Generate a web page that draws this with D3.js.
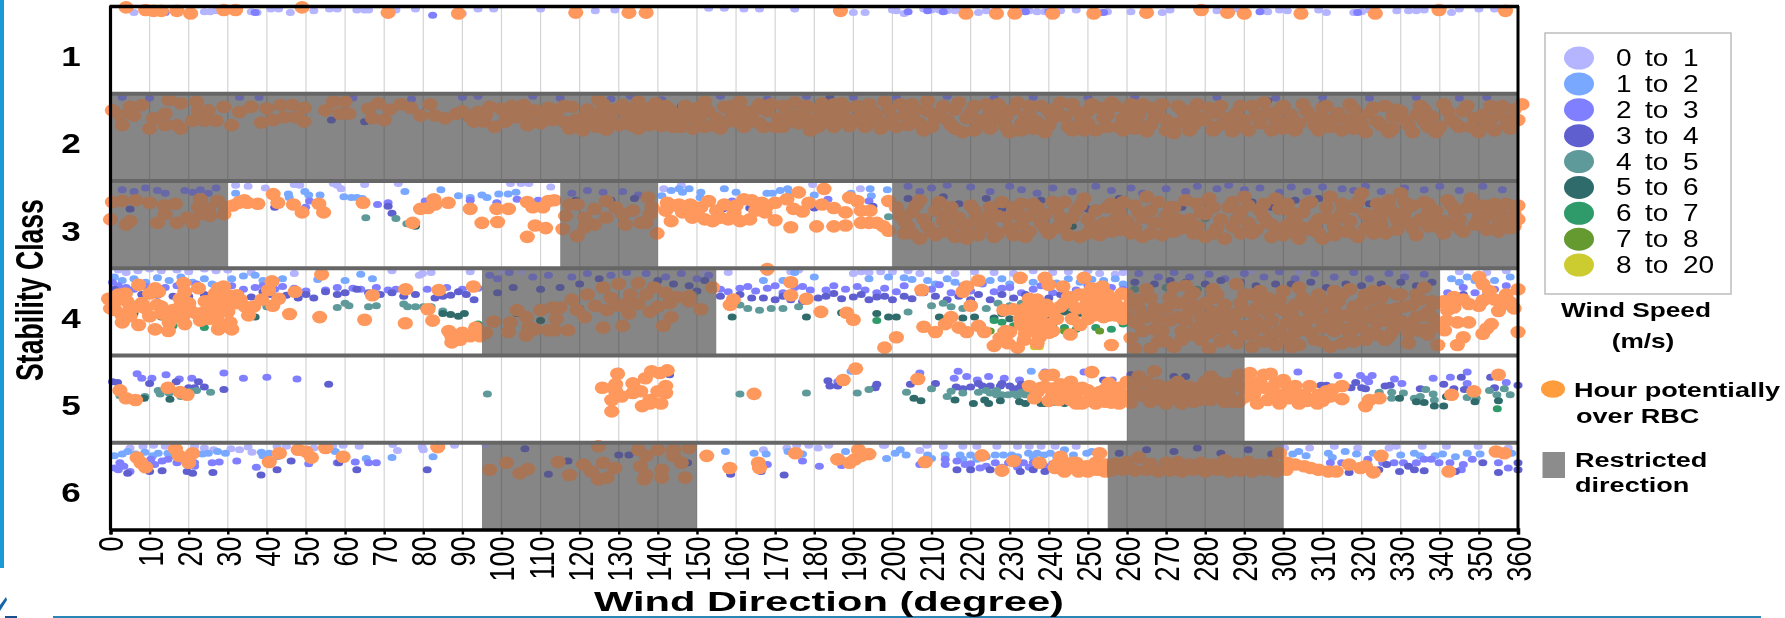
<!DOCTYPE html>
<html>
<head>
<meta charset="utf-8">
<script src="https://cdn.jsdelivr.net/npm/d3@7"></script>
<style>
html, body { margin: 0; padding: 0; background: #fff; }
svg { display: block; filter: blur(0.55px); }
text { font-family: "Liberation Sans", Arial, sans-serif; fill: #000; }
</style>
</head>
<body>
<script>
// Wind speed bins and stability classes
var speedLabels = [["0","1"],["1","2"],["2","3"],["3","4"],["4","5"],["5","6"],["6","7"],["7","8"],["8","20"]];
var speedColors = ["#b4b4ff","#78a8ff","#7f7fff","#5f5fd0","#5f9a9a","#2f6b6b","#2f9a6a","#659a30","#cccc30"];
var rbcColor = "#ff985c";
var stabilityClasses = [1,2,3,4,5,6];
var directionTicks = d3.range(0, 361, 10);

// Restricted direction sectors per class: [class, from, to]
var restricted = [[2,0,360],[3,0,30],[3,115,140],[3,200,360],[4,95,155],[4,260,340],[5,260,290],[6,95,150],[6,255,300]];

// Points are [wind direction, depth inside the class band in percent]
var band1Speed0 = [[6,7],[12,6],[24,6],[25.5,6],[27,5],[36,6],[37.5,7],[41,3],[43,3],[46,7],[52,5],[56,3],[58,3],[63,4],[65,4],[66,4],[73,4],[78,3],[90,8],[94,3],[98,3],[110,3],[124,5],[129,4],[153,2],[157,2],[162,3],[166,3],[175,3],[190,7],[193,7],[200,4],[203,8],[201,5],[208,3],[210,4],[212,4],[214,5],[216,5],[218,4],[222,7],[224,5],[227,6],[233,5],[235,5],[237,6],[239,6],[243,5],[247,4],[251,6],[253,7],[255,6],[261,6],[269,7],[271,4],[278,3],[283,5],[288,3],[295,3],[296,6],[299,4],[301,5],[309,4],[311,7],[318,7],[320,6],[322,4],[329,5],[332,5],[334,5],[336,4],[343,7],[345,3],[350,3],[354,3]];
var band1Speed2 = [[14,7],[37,7],[82.4,10],[204,6],[209,5],[213,6],[219,6],[226,7],[234,6],[240,6],[252,7],[254,7],[294,6],[319,7]];
var band1Rbc = [[4,1],[9,4],[11,5],[13,5],[17,5],[20.5,8],[29,4],[32,4],[49,1],[71,7],[89,8],[119,7],[132.6,7],[137,7],[186.7,5],[218.8,8],[226.6,8],[231.3,8],[241,8],[251.5,8],[265,7],[279,4],[285.7,7],[290,8],[304.5,8],[323.5,8],[339.8,4],[356.8,5]];

var band2Speed2 = [[3,4],[10,5],[33,4],[38,4],[62,5],[77,6],[90,4],[94,3],[108,3],[115,5],[128,6],[133,3],[141,7],[156,3],[168,6],[178,3],[190,4],[201,4],[214,3],[226,5],[236,4],[250,4],[262,3],[283,4],[298,5],[310,4],[322,5],[334,4],[345,5],[352,4]];
var band2Speed3 = [[56.5,30],[65,32],[126,10],[146,14],[184,5],[296,8],[310,12]];
var band2Rbc = [[0.5,19],[3,36],[2.5,25],[5,15],[8,13],[6,25],[10,40],[11,28],[14,36],[14,23],[15,7],[17,36],[18,40],[18,11],[22,9],[21,31],[24,31],[27,31],[22.5,19],[25,19],[29,15],[31,36],[33,21],[36,15],[38.6,33],[41.6,30],[44.5,27],[49.5,32],[47.5,27],[40,17],[43.5,13],[46.5,13],[49.6,16],[55,19],[57,9],[60,9],[58.7,23],[61,23],[67,28],[70,30],[66,17],[68.5,11],[71.4,18],[74.3,12],[76.8,16],[79.3,25],[81.7,12],[83,25],[85.6,28],[88.5,23],[92,27],[95.4,32],[98.3,38],[94,21],[97,15],[99.8,17],[102.7,14],[103.7,27],[106.7,36],[105.7,13],[108.6,19],[111.5,25],[114.4,19],[118,15],[117.4,40],[120.8,42],[120.8,27],[124.8,7],[124.3,38],
[126.8,41],[125.5,22],[128,30],[131,13],[133,36],[135,9],[135,40],[137,27],[139.5,11],[141,37],[143,18],[145,30],[147,14],[149,40],[151,25],[152,9],[154,36],[156,40],[157,15],[159,25],[161,9],[163,33],[165,18],[167,38],[169,12],[171,28],[173,33],[175,10],[177,22],[179,42],[180,30],[182,11],[184,20],[186,33],[187,11],[189,37],[191,14],[193,38],[195,20],[197,40],[198,9],[200,28],[202,12],[204,36],[206,18],[208,42],[209,8],[211,28],[213,14],[215,36],[217,10],[218,44],[220,22],[222,36],[224,12],[226,30],[228,18],[230,44],[232,10],[234,26],[236,40],[238,14],[239,44],[241,28],[243,10],[245,38],[247,20],[249,42],[251,12],[252,42],[254,28],[256,10],[258,38],[260,20],[262,40],[264,12],[265,43],[267,28],[269,12],[271,38],[272,45],[274,18],[276,42],[278,12],[280,30],[282,42],[284,14],[286,28],[287,43],[289,14],[291,42],[293,24],[295,10],[297,42],[299,18],[301,32],[303,42],[305,12],[307,26],[309,42],[311,14],[313,28],[315,42],[317,12],[319,28],[321,44],[323,16],[325,36],[327,44],[329,18],[331,30],[333,44],[335,14],[337,38],[339,44],[341,12],[343,30],[345,38],[347,14],[349,28],[350,44],[352,36],[354,42],[356,14],[358,28],[358,40],[360,30],[361,12]];
var band2RbcDense = [[90,20],[93,32],[96,24],[101,32],[104,20],[107,24],[110,34],[112,16],[113,30],[116,32],[116,14],[119,30],[122,18],[123,32],[125,24],[101,22],[110,24],
[126,12],[127,32],[129,18],[130,36],[132,24],[134,16],[134,30],[136,20],[136,34],[138,16],[138,36],[140,24],[142,14],[142,30],[144,38],[146,22],[146,38],[148,26],[150,16],[150,32],[152,38],[153,20],[155,28],[157,34],[159,14],[160,32],[162,20],[162,38],[164,28],[166,12],[166,34],[168,20],[170,38],[172,14],[172,38],[174,24],[176,34],[178,14],[178,28],[181,18],[181,38],[183,30],[185,12],[185,38],[187,24],[188,16],[190,30],[192,22],[194,12],[194,32],[196,26],[199,18],[199,34],[201,38],[203,24],[205,12],[205,28],[207,34],[209,20],[210,38],[212,22],[214,30],[216,18],[216,40],[219,28],[221,14],[221,42],[223,30],[225,20],[225,40],[227,12],[229,26],[229,38],[231,18],[233,34],[233,42],[235,14],[235,24],[237,32],[240,20],[240,36],[242,16],[244,26],[246,12],[246,42],[248,32],[250,20],[250,34],[253,16],[255,24],[255,38],[257,14],[259,28],[259,42],[261,12],[261,30],[263,24],[263,36],[266,16],[266,36],[268,22],[270,30],[270,42],[273,14],[273,34],[275,26],[277,18],[277,36],[279,28],[281,16],[283,22],[283,38],[285,34],[288,22],[288,38],[290,30],[292,14],[294,34],[296,22],[298,30],[300,14],[300,40],[302,24],[304,34],[306,20],[308,36],[310,16],[310,28],[312,38],[314,22],[316,30],[318,18],[318,40],[320,34],[322,22],[324,32],[326,14],[328,26],[328,40],[330,20],[332,36],[334,24],[336,18],[336,32],[338,26],[340,38],[342,20],[344,34],[346,20],[348,38],[351,24],[353,14],[353,30],[355,24],[357,36],[359,18]];

var band3Speed0 = [[35.2,6],[32,5],[39.6,8],[47,4],[48.4,5],[57,3],[58,5],[59,9],[65,4],[73.6,3],[102.3,3],[105,3],[107,3],[112.6,7],[141.5,9],[146,5],[179.6,4],[191.8,9]];
var band3Speed1 = [[32,14],[45.5,15],[45.7,19],[49.7,12],[53.6,16],[50.7,16],[59.7,18],[61.6,19],[63,19],[64.4,20],[75.3,12],[84.5,10],[89,17],[92,19],[95,16],[96.3,19],[99.3,15],[101.7,15],[103.7,13],[141,17],[143.4,11],[145.4,9],[146.3,13],[148,9],[151,13],[150.8,19],[157,9],[160,13],[167.9,14],[169.3,14],[171.3,11],[173.2,9],[173.7,15],[180,16],[189.4,14],[194.3,9],[194.6,17],[198.7,10]];
var band3Speed2 = [[50.9,23],[49.9,30],[68.3,27],[71,25],[80.5,23],[92,22],[98.8,25],[104,21],[109.4,22],[159,23],[183.5,21],[194,23],
[3,10],[6,12],[9,8],[12,11],[14,14],[19,11],[21,13],[23,10],[25,14],[27,8],[118,14],[122,11],[126,13],[131,12],[135,16],[204,6],[207,12],[210,8],[214,5],[220,7],[225,12],[230,6],[233,10],[237,14],[241,8],[246,12],[252,6],[256,11],[261,8],[264,14],[270,9],[275,12],[278,6],[283,9],[286,5],[290,10],[294,8],[299,13],[302,7],[306,12],[310,7],[315,9],[318,11],[321,6],[325,12],[331,8],[336,10],[340,6],[345,11],[351,6],[356,10]];
var band3Speed3 = [[42,30],[71,29],[72,37],[156.6,32],[163.5,31],[180,31],[195,29],[5,32],[119,22],[128,22],[134,20],[204,20],[206,30],[213,18],[217,26],[224,20],[228,32],[238,22],[243,28],[250,32],[258,20],[262,30],[268,24],[274,30],[280,22],[286,30],[292,24],[297,30],[303,22],[309,20],[318,28],[322,26]];
var band3Speed4 = [[65.3,42],[73,43],[75.8,49],[199,41],[280,43]];
var band3Speed5 = [[78,52],[246,52]];
var band3Rbc = [[0,44],[0.5,24],[3,23],[6.4,22],[10,25],[12,48],[13.7,28],[14,38],[16.6,26],[5,46],[4,50],[17,48],[19.6,42],[21,48],[22.5,30],[23,38],[25,32],[25.4,40],[27.4,23],[29.4,30],[29,38],[23,21],
[31.3,28],[32.8,25],[34.2,22],[35,25],[33,24],[37.7,26],[41.6,15],[42.8,25],[46.8,27],[49,36],[53.3,26],[54.5,36],[64.6,25],[77.3,48],[79.3,32],[81.2,31],[82.7,21],[83,27],[86.4,25],[92,32],[95,48],[99,47],[98.8,32],[101.8,32],[106.6,24],[108,30],[110.6,30],[108.6,51],[111.3,54],[106.6,64],[112,23],[113.5,22],
[115.7,55],[116.4,40],[117.4,27],[119.4,27],[119.4,63],[121.3,42],[121.3,53],[123.8,32],[123.8,50],[126.8,23],[126.8,42],[129.2,30],[131.7,50],[131,38],[133.6,34],[135.6,48],[137.5,19],[138,38],[138.5,30],[137,48],[139.8,60],
[142.4,25],[142,34],[143.4,46],[145.4,27],[146.3,36],[148.8,42],[148.3,27],[153,23],[154,46],[156,42],[157,27],[159.5,36],[162,21],[163.5,44],[164,22],[166.6,25],[167.4,36],[170,25],[170,45],[173,21],[174.7,32],[177,35],[178.6,25],[174,53],[180.6,52],[182,27],[185,31],[185,52],[188,51],[188,36],[191,23],[192,34],[194.3,34],[192,48],[194,48],[196,48],[197.7,52],[199,57],[199,23],[182.5,9],[176,13],[189,19],[144,28],[147,30],[150,38],[151,30],[152,44],[155,34],[158,44],[160,28],[161,46],[165,34],[168,28],
[202,40],[204,52],[206,28],[208,44],[210,58],[212,24],[214,40],[216,64],[218,50],[220,28],[222,62],[224,42],[226,64],[228,24],[230,54],[232,38],[234,64],[236,26],[238,48],[240,60],[241,24],[243,42],[245,62],[247,34],[249,20],[251,52],[253,62],[255,30],[257,44],[259,24],[261,60],[263,36],[265,18],[267,48],[269,62],[271,30],[273,44],[275,22],[277,60],[279,36],[281,20],[283,54],[285,66],[286,30],[288,44],[290,18],[292,60],[294,34],[296,48],[298,20],[300,62],[302,36],[304,66],[306,26],[308,50],[310,66],[312,18],[314,42],[316,58],[318,30],[320,14],[322,50],[324,26],[326,60],[328,36],[330,14],[332,48],[334,62],[336,24],[338,42],[340,54],[342,22],[344,36],[346,58],[348,20],[350,42],[352,56],[354,26],[356,40],[358,54],[360,28],[360,44],
[203,60],[207,66],[213,58],[219,66],[227,40],[233,26],[242,54],[248,64],[258,56],[264,64],[272,58],[280,64],[289,60],[297,64],[301,50],[307,56],[311,42],[319,64],[323,40],[327,30],[331,24],[337,36],[343,50],[349,30],[355,50],[359,38]];
var band3RbcDense = [[201,30],[203,46],[205,36],[205,60],[207,22],[209,52],[211,34],[211,62],[213,46],[215,30],[215,54],[217,42],[219,56],[221,34],[221,46],[223,54],[225,30],[225,52],[227,60],[229,42],[231,30],[231,62],[233,50],[235,40],[235,58],[237,30],[239,38],[239,54],[242,32],[244,50],[244,24],[246,42],[248,28],[250,44],[250,60],[252,34],[254,48],[256,26],[256,58],[258,36],[260,46],[262,28],[262,54],[264,42],[266,34],[266,60],[268,24],[270,50],[270,40],[272,30],[274,54],[276,44],[278,26],[278,52],[280,38],[282,30],[282,60],[284,44],[287,24],[287,52],[289,36],[291,28],[291,48],[293,56],[295,26],[295,42],[297,50],[299,32],[299,56],[301,26],[303,46],[303,60],[305,36],[305,54],[307,24],[309,44],[309,60],[311,30],[313,52],[313,62],[315,36],[315,26],[317,46],[317,58],[319,24],[321,38],[321,54],[323,60],[325,40],[325,50],[327,22],[329,44],[329,56],[331,36],[333,28],[333,54],[335,44],[337,52],[337,26],[339,34],[341,46],[341,60],[343,28],[345,44],[345,54],[347,30],[349,50],[351,28],[351,46],[353,38],[355,30],[355,58],[357,44],[357,26],[359,52]];

var band4Speed0 = [[2,2],[4,5],[7,3],[10,1],[13,3],[17,2],[20,4],[24,1],[27,3],[30,2],[36,5],[47,6],[72,3],[79,8],[79.8,6],[82,5],[92,4],[100,3],[105,4],[152,5],[158,5],[168,5],[174,4],[176,2],[190,6],[192,4],[194,5],[197,4],[200,4],[204,3],[207,6],[212,3],[216,6],[221,4],[226,5],[231,6],[236,3],[241,5],[245,4],[250,3],[253,6],[257,7],[259,5],[280,3],[292,3],[304,4],[318,3],[331,5],[345,4],[352,5],[357,3]];
var band4Speed1 = [[1,10],[3,14],[6,12],[9,16],[12,11],[15,14],[18,10],[21,16],[24,12],[26,18],[31,12],[34,9],[37,8],[39,14],[42,14],[44,12],[53,13],[60,14],[64,7],[67,12],[167,14],[172,14],[175,5],[180,10],[194,12],[199,10],[203,11],[205,13],[209,14],[211,18],[214,12],[216,16],[219,19],[222,12],[225,14],[228,12],[230,18],[233,13],[236,16],[239,12],[242,17],[245,12],[248,16],[251,13],[254,14],[257,12],[259,18],[343,12],[345,16],[347,10],[349,14],[351,18],[354,14],[358,10]];
var band4Speed2 = [[0.5,16],[2,20],[4,22],[6,24],[9,21],[12,26],[14,22],[17,20],[19,26],[22,18],[27,24],[31,20],[34,24],[37,22],[39,20],[42,24],[44,21],[47,23],[50,26],[55,25],[58,22],[62,23],[64,24],[68,22],[71,25],[73,24],[76,26],[81,24],[86,22],[90,24],[94,23],
[156,24],[158,27],[161,23],[163,21],[165,26],[168,23],[170,20],[172,28],[175,22],[177,21],[179,25],[183,25],[185,20],[188,24],[191,21],[193,25],[196,28],[198,23],[201,27],[203,20],[207,28],[210,24],[212,19],[215,28],[218,20],[220,26],[223,18],[226,27],[228,23],[230,22],[233,28],[236,24],[238,20],[241,28],[244,24],[247,25],[250,20],[253,26],[256,22],[259,24],[342,28],[346,22],[349,28],[354,24],[357,20],
[97,8],[99,12],[102,5],[108,10],[112,8],[118,10],[122,6],[128,8],[132,5],[137,6],[142,10],[146,6],[150,12],[153,8],[263,6],[268,10],[272,5],[276,10],[281,7],[285,12],[290,6],[295,10],[299,4],[303,12],[308,6],[313,10],[318,5],[322,12],[327,6],[331,10],[336,7]];
var band4Speed3 = [[1,24],[4,27],[8,30],[12,31],[16,32],[20,32],[24,30],[28,33],[33,30],[36,33],[39,27],[41,30],[45,31],[48,34],[50,30],[52,34],[55,27],[58,30],[60,28],[63,24],[66,28],[69,30],[72,28],[75,32],[78,30],[83,34],[85,32],[87,31],[89,27],[91,30],[93,36],
[156,32],[159,38],[161,30],[164,34],[167,34],[170,36],[172,32],[174,36],[177,38],[181,34],[183,32],[185,29],[187,35],[190,33],[192,30],[194,36],[196,33],[198,32],[200,36],[203,32],[205,35],[208,28],[211,32],[214,36],[217,32],[220,36],[222,30],[225,36],[228,30],[231,34],[234,30],[237,36],[240,34],[243,30],[246,34],[249,32],[254,36],[258,32],[346,30],[352,30],
[99,28],[103,22],[110,24],[115,22],[120,18],[125,12],[140,14],[144,18],[148,20],[152,14],[150,26],[262,16],[267,18],[271,14],[275,16],[280,18],[284,14],[289,16],[293,20],[298,18],[302,18],[307,16],[311,22],[316,18],[320,20],[325,18],[330,16],[334,20],[338,16]];
var band4Speed4 = [[18,44],[40,44],[58,45],[60,40],[61,43],[66,44],[68,43],[75,41],[76,44],[78,44],[80,44],[82,44],[85,49],[161,42],[163,46],[166,48],[169,46],[172,46],[176,44],[204,50],[210,43],[213,40],[215,44],[218,46],[224,46],[227,40],[230,43],[233,40],[237,44],[240,44],[243,48],[245,44],[247,46],[249,42],[252,46],[149,30],[262,24],[270,22],[278,24]];
var band4Speed5 = [[6,52],[13,56],[24,56],[28,54],[37,56],[85,52],[87,53],[89,55],[90.5,52],[159,56],[178,56],[187,51],[196,52],[199,56],[201,56],[212,56],[218,57],[221,56],[226,57],[228,52],[233,52],[236,60],[241,52],[244,50],[246,52],[248,52],[250,56],[255,52],[230,58],[240,60],[104,52],[110,60],[120,46]];
var band4Speed6 = [[16,66],[24,68],[196,60],[222,64],[226,60],[228,62],[231,66],[241,66],[244,68],[247,70],[252,68],[256,70],[259,64],[94,64]];
var band4Speed7 = [[225,72],[228,72],[238,74],[244,72],[253,72]];
var band4Speed8 = [[236.3,90],[237.6,90]];
var band4Rbc = [[-0.5,35],[0,46],[1.2,38],[1.2,48],[3,54],[3,62],[3.8,29],[4.2,38],[5,46],[6.7,44],[7.2,19],[7.2,65],[8.9,46],[10,29],[11.4,23],[12.3,27],[11.9,42],[11.4,70],[13,44],[14.8,72],[15,62],[16,48],[16.5,56],[17.8,44],[17.8,35],[18.7,17],[19,27],[18.7,54],[19,64],[20.4,48],[22.5,23],[22,52],[23,60],[24.2,38],[25.5,46],[26,36],[26.8,29],[27.6,23],[28,38],[27.2,54],[27.6,62],[27.6,70],[30.6,62],[31,70],[28.9,21],[30.2,31],[32.3,31],[33.2,36],[34.4,44],[35.3,54],[36.6,44],[38.7,36],[40.4,25],[41.3,15],[41.5,43],[43,35],[45.8,52.5],[47.2,27],[53.5,56],[54,7],[65,59],[67,31],[75.4,63],[75.5,24],[81.2,47],[82.4,60],[84,25],[92.8,21],[93.4,68],[86.5,72],[87.3,85],[89.4,82],[90,74],[87.3,78],[92,78],[94.5,78],
[96,74],[98,61],[101.8,73],[102.3,62],[106.3,56],[106.3,77],[107,67],[108.6,70],[112,71],[113.5,71],[114,58],[117,71],[115,45],[113,45],[119.4,48],[121.3,56],[124,43],[126,68],[131,66],[132.6,52],[141.4,66],[143.4,56],[138,50],[135,41],[130,43],[140,44],[127,48],[151,47],[148,38],[154,22],[126,22],[130,18],[135,17],[139,22],[142,28],[145,33],[148,32],[128,34],[133,30],[137,30],[122,30],[118,36],[110,48],[104,48],[143,40],[132,40],
[168,1],[174,16],[174,31],[178,35],[158.5,42],[159.3,36],[181.7,50],[188.3,51],[190,59],[201,79],[198,91],[207.5,25],[208,67],[211,73],[213.5,64],[215,56],[217,68],[219,73],[220,43],[222,66],[223.5,73],[218,27],[219,21],[222,14],[228.5,48],[231,47],[230,73],[227.5,80],[226,89],[229.5,86],[232,91],[233.7,82],[235,35],[234.7,56],[236.3,46],[236.3,58],[236.3,70],[237.6,79],[239.4,42],[240,64],[232.7,58],[240,19],[239,11],[243.6,21],[245,33],[247.7,30],[242,58],[245.5,76],[248,65],[247.2,46],[249,11],[249.8,40],[251,23],[253.7,21],[252,35],[253.7,33],[252.4,48],[254.5,44],[255.4,54],[256.6,38],[257,54],[258.7,29],[258.7,46],[259,58],[256,88],[232.7,11],[251.5,54],[254,56],[235,66],[238,60],[234,46],[250,50],[256,46],
[261,40],[261,80],[263,60],[265,24],[266,92],[267,46],[269,72],[271,34],[272,90],[273,56],[275,20],[277,76],[278,44],[280,62],[281,92],[283,30],[285,52],[286,80],[288,18],[289,40],[291,66],[292,90],[294,26],[296,50],[297,78],[299,36],[301,62],[302,90],[304,22],[306,46],[307,74],[309,30],[311,58],[312,90],[314,38],[316,70],[317,24],[319,50],[321,82],[322,36],[324,62],[326,26],[327,78],[329,46],[331,66],[332,86],[334,30],[336,54],[337,76],[339,40],[339.5,88],[262,92],[264,72],[268,58],[270,84],[274,72],[276,34],[279,82],[282,50],[284,70],[287,60],[290,76],[293,46],[295,68],[298,88],[300,48],[303,74],[305,34],[308,56],[310,84],[313,48],[315,86],[318,66],[320,40],[323,74],[325,46],[328,58],[330,30],[333,62],[335,72],[338,56],[263,36],[272,22],[282,24],[292,30],[303,42],[313,26],[323,26],[336,22],[318,84],[326,82],
[343.6,45],[347.4,41],[351,37],[355,49],[358,39],[341.2,71],[344.5,62],[347.4,62],[353.2,64],[351,75],[346,79],[344.5,88],[360,73],[352,69],[341.7,60],[350,43],[356,42],[342,48],[343.6,33],[351,18],[350,10],[352.7,26],[357,30],[360,24],[346,36],[354,36],[359,46],[341,38]];
var band4RbcDense = [[2,30],[5,55],[8,40],[10,55],[13,52],[20,40],[24,50],[25,58],[29,44],[30,50],[32,40],[241,50],[243,44],[246,58],[249,30],[250,58],[253,48],[255,30],[257,40],[246,34],[244,40],[235,50],[238,52],[237,36],[233,65],[238,70],[234,75],[240,74],[237,86],[229,72],[241,72],
[260,55],[260,30],[262,62],[263,46],[265,56],[266,34],[267,70],[268,84],[270,46],[271,60],[273,40],[274,82],[275,60],[276,48],[277,28],[278,68],[279,56],[280,40],[281,74],[282,34],[283,62],[284,84],[285,42],[286,66],[288,52],[288,86],[289,66],[290,30],[291,50],[292,76],[293,60],[294,40],[295,84],[296,34],[297,60],[298,44],[299,72],[300,26],[301,80],[302,52],[303,60],[304,88],[305,70],[306,60],[307,40],[308,82],[309,46],[310,68],[311,38],[312,60],[313,72],[314,58],[315,30],[316,54],[317,76],[318,44],[319,60],[320,68],[321,30],[322,56],[323,50],[324,76],[325,34],[326,60],[327,48],[328,72],[329,30],[330,60],[331,44],[332,74],[333,42],[334,56],[335,36],[336,70],[337,50],[338,38],[339,66]];

var band5Speed1 = [[189.4,18],[235.5,18]];
var band5Speed2 = [[6.8,21],[8,26],[10.6,26],[14.2,22],[17.6,27],[20.8,26],[29,20],[34,26],[40,25],[47.7,27],[130,18],[186,30],[207,20],[206,28],[216.8,18],[215.8,26],[219,24],[221.7,28],[224.6,24],[228.6,26],[232.5,28],[239,19],[249,19],[256.2,28],[303.7,19],[314,23],[319.7,23],[322.7,23],[321,27],[321.8,30],[328.4,27],[330.3,32],[338.3,26],[342.7,25],[347,19],[347,32],[357,31]];
var band5Speed3 = [[10,32],[16.8,30],[22.5,30],[24,36],[21.5,37],[20,37],[29,39],[55.8,33],[0.5,30],[1.8,31],[143,22],[183.5,29],[184,35],[186,35],[196,33],[195.6,37],[204.6,33],[211,32],[216.3,36],[218,38],[223,35],[225,35],[227.6,35],[230,35],[232.5,37],[234.5,37],[254,28],[261,22],[272,24],[275,24],[309.6,34],[311,34],[317.3,37],[318.5,31],[320,37],[321,38],[326,35],[327.3,34],[335,38],[341,33],[345.5,25],[343.6,38],[346.3,39],[353,25],[354,37],[360,34],[220,36],[222,32],[228,32],[231,38],[233,33],[236,36]];
var band5Speed4 = [[25.6,42],[96.4,44],[12.2,40],[12.7,44],[8.8,47],[15,43],[18,47],[22,40],[20.4,41],[2.4,46],[161,44],[178,43],[191,43],[194,39],[203.6,42],[210,38],[214,47],[215,41],[218,43],[225,43],[226.6,40],[226.6,45],[229.6,45],[234,45],[236,47],[231,44],[233,42],[324.5,42],[327.7,42],[327.7,49],[330.7,43],[333.5,49],[335,47],[336.4,39],[338.3,44],[338.6,51],[342.4,44],[347,48],[349.3,49],[352.7,40],[354.6,45],[356.5,38],[358,45],[222,42],[224,40],[228,45],[232,46],[235,42],[237,44]];
var band5Speed5 = [[15.2,50],[8.6,49],[205.5,49],[207.3,52],[216,51],[220.7,55],[223.6,51],[224.6,55],[227.6,52],[232.5,53],[234,55],[238,55],[239,55],[241,54],[244,55],[310,53],[329.7,49],[336,54],[334,53],[338.6,58],[341,58],[349,53],[355,52],[341.7,47]];
var band5Speed6 = [[354.7,61]];
var band5Rbc = [[2.4,40],[4,49],[6.4,51],[14.7,37],[17.8,42],[19.6,45],[125.8,37],[129.7,21],[129.2,33],[129.2,41],[128.2,51],[128.2,64],[130.7,47],[133.6,32],[133.6,43],[135.6,41],[136,58],[136.8,26],[138,51],[138.4,18],[140.5,20],[142.4,17],[140,41],[142,35],[142,43],[140.8,55],[138,55],[164.6,44],[187.4,28],[190.6,15],[206.5,27],[235,35],[236.3,49],[239.2,23],[241,22],[238,37],[241,45],[243.6,41],[245.6,30],[242.6,51],[245.6,51],[248.5,37],[248.5,55],[252,45],[251,19],[252,55],[254.4,39],[254.4,53],[255.3,32],[258,37],[258,55],[263,24],[267,18],[266,39],[266,53],[270,43],[270,55],[274,41],[274,55],[276.5,47],[262,44],[261,54],[281.4,24],[281.4,35],[281.4,51],[285,39],[285,53],[288.6,22],[288.6,35],[288.6,53],[278.5,37],[278.5,51],[291.4,20],[295,22],[296.7,21],[292,33],[292.4,45],[293.3,55],[295,37],[296,51],[298,32],[298.6,45],[299,55],[301,35],[301.5,49],[303,35],[304,55],[305.3,45],[306.7,35],[307,51],[309,45],[308.7,55],[311,41],[312.5,39],[315,35],[315,50],[321,58],[322,51],[324.5,49],[343,45],[348.7,41],[355,22],
[237,42],[239,36],[240,52],[244,46],[247,44],[247,55],[250,40],[250,52],[253,42],[255,46],[256,54],[257,43],[259,45],[243,33],[246,40],[241,38],[260,30],[262,36],[264,46],[265,30],[268,34],[268,50],[271,36],[272,48],[273,30],[276,36],[277,53],[279,44],[280,30],[283,44],[283,30],[286,32],[286,46],[287,53],[290,30],[290,48],[290,36],[294,30],[297,42],[300,28],[302,42],[304,45],[306,52],[310,52],[312,47]];

var band6Speed0 = [[5,6],[8.3,4],[11,3],[14,4],[21.5,4],[24,6],[26.4,8],[30.8,7],[33,8],[35.2,5],[36.2,11],[42.6,4],[45,4],[52,6],[56.8,4],[59.5,3],[63.6,4],[72.2,2],[73.4,9],[79.7,5],[80,8],[88,3],[83.7,8],[96,2],[167,8],[173,6],[175.5,3],[178.6,3],[181,6],[183.7,3],[197.7,3],[198,3],[207,9],[208.8,3],[213,4],[218,4],[221.6,4],[226.7,4],[232,4],[235,4],[238,4],[241.6,4],[247,4],[300.3,6],[306.7,6],[313,4],[319,6],[327,6],[328.8,4],[335.5,4],[341.7,4],[349.8,4],[357.5,6]];
var band6Speed1 = [[1,15],[3,13],[4.4,10],[6.4,13],[8.8,11],[10.8,15],[12.2,12],[14.7,12],[16,15],[23.5,13],[25,12],[27.4,10],[29.4,12],[38.6,11],[39,15],[40.6,12],[42.6,16],[57.5,10],[65.4,18],[72,17],[82.5,16],[157.3,10],[164.6,12],[167.7,13],[173.3,10],[177,13],[188,10],[198.5,18],[200.7,12],[202,8],[203.5,14],[209,14],[210,18],[213.5,14],[217.3,14],[218,19],[221.6,19],[226.3,14],[228.4,14],[230.5,14],[234.8,12],[237,12],[238.7,14],[240.4,12],[244,8],[246.3,14],[249.7,12],[251,10],[220,14],[224,16],[232,16],[236,17],[242,16],[315.8,10],[303.9,10],[302.4,13],[305.8,15],[311.5,12],[312.5,17],[318.7,13],[323,12],[333.5,12],[335,15],[338.8,15],[340.7,13],[347,12],[350.3,13],[358.4,12],[330,14],[344,16]];
var band6Speed2 = [[1,29],[2.4,23],[2,31],[3.4,27],[5,33],[10.3,19],[11.3,25],[13.2,21],[14.7,19],[17,23],[21.5,23],[21.5,27],[26,23],[27.8,22],[32.3,21],[37.3,28],[50.7,24],[58,23],[66,23],[68,23],[62.6,22],[168,25],[177,21],[181.3,27],[187,26],[213.5,19],[213.5,25],[207,25],[216.5,21],[218.6,25],[222.4,29],[226.3,23],[229.7,23],[233.5,23],[236,23],[239,27],[220,24],[224,27],[228,28],[232,28],[235,28],[237,26],[241,24],[355,23],[312,23],[314.9,23],[321.6,19],[325.4,23],[328.3,23],[330.7,23],[334,23],[336,19],[339.8,23],[342.6,23],[346,25],[348.3,19],[357.5,29],[345.5,31],[337.8,19]];
var band6Speed3 = [[4.4,35],[10,33],[13.2,32],[19.6,33],[21,35],[26.2,34],[38.5,37],[42.6,31],[46.2,21],[58.4,23],[63,31],[81,31],[106,7],[117,21],[112,36],[130,14],[132.6,14],[147.6,23],[158.6,36],[166.4,33],[172.3,37],[216.5,31],[220,31],[225,31],[232.7,33],[236,31],[239,33],[228,33],[243,32],[258,12],[265,8],[272,10],[278,6],[284,12],[291,8],[297,13],[351,23],[324.4,31],[329.7,33],[333.5,31],[336,32],[316.8,34],[326.4,25],[332,27],[344,33],[355,34],[360,31],[360,23]];
var band6Rbc = [[6.8,17],[7.8,23],[9,28],[16.6,7],[17.6,15],[19.6,19],[21,12],[20,23],[40.6,22],[43.2,12],[48,8],[50,10],[51.4,17],[55,6],[59.5,16],[83.7,5],[97,31],[101.3,23],[104.7,35],[106.7,30],[114.5,22],[121,25],[117.4,37],[123,33],[124.8,4],[124.8,42],[126,23],[129,29],[127,40],[135,8],[137,15],[135.6,27],[137,37],[136.5,42],[141,31],[141,40],[147,40],[144,15],[146,23],[148,6],[140,8],[144,8],[152.5,15],[158.4,29],[165.7,23],[166,29],[175.2,12],[186,19],[189,23],[190.4,19],[192,15],[194,13],[191.3,8],[208.4,22],[222.9,14.5],[231,21],[228,32],[237.6,23],[241.6,29],[243,16],[242,25],[245.5,27],[247,23],[247.6,33],[249.7,27],[252,23],[252.3,31],[254.4,25],[253,12],[254.4,33],[244,33],[243,28],[246,23],[250,33],[251,29],[255,28],
[257,24],[256,32],[259,31],[260,22],[262,32],[263,17],[265,31],[266,24],[268,33],[270,23],[271,32],[273,22],[274,33],[276,25],[277,31],[279,23],[280,33],[282,25],[283,31],[285,20],[286,33],[288,24],[289,32],[291,22],[292,33],[294,25],[295,31],[297,23],[298,33],[299,12],[300,28],
[300.7,31],[303,25],[305.3,27],[307,29],[309,31],[311.5,33],[313.5,33],[316.8,25],[319.7,29],[321,27],[323,34],[325,15],[342.3,33],[354.4,10],[356.5,12],[301,23]];

// Link the arrays to their class and bin, small speed bins first
var speedSets = [
  [1,0,band1Speed0],[1,2,band1Speed2],
  [2,2,band2Speed2],[2,3,band2Speed3],
  [3,0,band3Speed0],[3,1,band3Speed1],[3,2,band3Speed2],[3,3,band3Speed3],[3,4,band3Speed4],[3,5,band3Speed5],
  [4,0,band4Speed0],[4,1,band4Speed1],[4,2,band4Speed2],[4,3,band4Speed3],[4,4,band4Speed4],[4,5,band4Speed5],[4,6,band4Speed6],[4,7,band4Speed7],[4,8,band4Speed8],
  [5,1,band5Speed1],[5,2,band5Speed2],[5,3,band5Speed3],[5,4,band5Speed4],[5,5,band5Speed5],[5,6,band5Speed6],
  [6,0,band6Speed0],[6,1,band6Speed1],[6,2,band6Speed2],[6,3,band6Speed3]
];
var rbcSets = [[1,band1Rbc],[2,band2Rbc],[2,band2RbcDense],[3,band3Rbc],[3,band3RbcDense],[4,band4Rbc],[4,band4RbcDense],[5,band5Rbc],[6,band6Rbc]];

var speedPoints = [];
speedSets.forEach(function(s) {
    s[2].forEach(function(p) {
        speedPoints.push({ dir: p[0], cls: s[0] - 0.5 + p[1] / 100, color: speedColors[s[1]] });
    });
});
var rbcPoints = [];
rbcSets.forEach(function(s) {
    s[1].forEach(function(p) {
        rbcPoints.push({ dir: p[0], cls: s[0] - 0.5 + p[1] / 100, color: rbcColor });
    });
});

var w = 1785;
var h = 618;

var x = d3.scaleLinear().domain([0, 360]).range([110.5, 1518]);
var y = d3.scaleLinear().domain([0.5, 6.5]).range([6.5, 530]);

var svg = d3.select("body").append("svg").attr("width", w).attr("height", h);

// page decoration from the slide the chart sits on
svg.append("rect").attr("x", 0).attr("y", 0).attr("width", 4).attr("height", 568).attr("fill", "#1a9ad6");
svg.append("rect").attr("x", 53).attr("y", 616).attr("width", 1708).attr("height", 2).attr("fill", "#2b86b8");
svg.append("path").attr("d", "M0,605 L6,597 L7,600 L0,611 Z").attr("fill", "#1464a8");
svg.append("rect").attr("x", 5).attr("y", 616).attr("width", 12).attr("height", 2).attr("fill", "#174f8f");

function drawGrid(g, color) {
    g.selectAll("line.grid").data(directionTicks).enter().append("line")
        .attr("class", "grid")
        .attr("x1", d => x(d)).attr("x2", d => x(d))
        .attr("y1", y(0.5)).attr("y2", y(6.5))
        .attr("stroke", color).attr("stroke-width", 1.2);
}

function drawPoints(g, muted) {
    var tone = function(c) { return muted ? d3.interpolateRgb(c, "#505050")(0.5) : c; };
    g.selectAll("ellipse.speed").data(speedPoints).enter().append("ellipse")
        .attr("class", "speed")
        .attr("cx", d => x(d.dir)).attr("cy", d => y(d.cls))
        .attr("rx", 4.5).attr("ry", 3.5)
        .attr("fill", d => tone(d.color));
    g.selectAll("ellipse.rbc").data(rbcPoints).enter().append("ellipse")
        .attr("class", "rbc")
        .attr("cx", d => x(d.dir)).attr("cy", d => y(d.cls))
        .attr("rx", 7.6).attr("ry", 6.3)
        .attr("fill", d => tone(d.color));
}

drawGrid(svg.append("g"), "#d4d4d4");
drawPoints(svg.append("g"), false);

// restricted sectors: gray box with the same points dimmed, cut to the box
var defs = svg.append("defs");
restricted.forEach(function(r, i) {
    var rx = x(r[1]), rw = x(r[2]) - x(r[1]);
    var ry = y(r[0] - 0.5), rh = y(r[0] + 0.5) - y(r[0] - 0.5);
    defs.append("clipPath").attr("id", "sector" + i).append("rect")
        .attr("x", rx).attr("y", ry).attr("width", rw).attr("height", rh);
    var g = svg.append("g").attr("clip-path", "url(#sector" + i + ")");
    g.append("rect").attr("x", rx).attr("y", ry).attr("width", rw).attr("height", rh).attr("fill", "#868686");
    drawGrid(g, "#747474");
    drawPoints(g, true);
});

// class separators
svg.selectAll("line.sep").data(stabilityClasses.slice(1)).enter().append("line")
    .attr("class", "sep")
    .attr("x1", x(0)).attr("x2", x(360))
    .attr("y1", d => y(d - 0.5)).attr("y2", d => y(d - 0.5))
    .attr("stroke", "#666").attr("stroke-width", 4);

// frame
svg.append("line").attr("x1", x(0) - 1).attr("x2", x(360) + 1).attr("y1", 6.5).attr("y2", 6.5).attr("stroke", "#000").attr("stroke-width", 3.5);
svg.append("line").attr("x1", x(0)).attr("x2", x(0)).attr("y1", 6).attr("y2", 530).attr("stroke", "#000").attr("stroke-width", 3.2);
svg.append("line").attr("x1", x(360)).attr("x2", x(360)).attr("y1", 6).attr("y2", 530).attr("stroke", "#000").attr("stroke-width", 3);

// x axis with stretched upright tick labels
var xAxis = d3.axisBottom(x).tickValues(directionTicks).tickSize(5).tickPadding(0);
var axisG = svg.append("g").attr("transform", "translate(0,529.5)").call(xAxis);
axisG.select(".domain").attr("stroke", "#000").attr("stroke-width", 3.5);
axisG.selectAll(".tick line").attr("stroke", "#000").attr("stroke-width", 2.5);
axisG.selectAll(".tick text")
    .attr("font-family", '"Liberation Sans", Arial, sans-serif')
    .attr("font-size", 27)
    .attr("text-anchor", "end")
    .attr("dy", "0.36em")
    .attr("y", 0)
    .attr("transform", "translate(0,7) scale(1.28,1) rotate(-90)");

function label(txt, px, py, size, bold, sx, anchor) {
    return svg.append("text").text(txt)
        .attr("transform", "translate(" + px + "," + py + ") scale(" + sx + ",1)")
        .attr("font-size", size)
        .attr("font-weight", bold ? "bold" : "normal")
        .attr("text-anchor", anchor || "start");
}

// class labels
stabilityClasses.forEach(function(c) {
    label(String(c), 71, y(c) + 16, 27, true, 1.3, "middle");
});
label("Wind Direction (degree)", 829, 611, 28, true, 1.49, "middle");
svg.append("text").text("Stability Class")
    .attr("transform", "translate(43,290) scale(1.45,1) rotate(-90)")
    .attr("font-size", 26.6).attr("font-weight", "bold").attr("text-anchor", "middle");

// wind speed legend
svg.append("rect").attr("x", 1545).attr("y", 33).attr("width", 186).attr("height", 261)
    .attr("fill", "#fff").attr("stroke", "#bdbdbd").attr("stroke-width", 1.5);
var legendY = d3.scalePoint().domain(d3.range(9)).range([58, 265]);
speedLabels.forEach(function(s, i) {
    svg.append("ellipse").attr("cx", 1579).attr("cy", legendY(i)).attr("rx", 15).attr("ry", 11.5).attr("fill", speedColors[i]);
    label(s[0], 1616, legendY(i) + 8, 23, false, 1.22);
    label("to", 1645, legendY(i) + 8, 23, false, 1.22);
    label(s[1], 1683, legendY(i) + 8, 23, false, 1.22);
});
label("Wind Speed", 1636, 317, 21, true, 1.25, "middle");
label("(m/s)", 1643, 348, 21, true, 1.25, "middle");

svg.append("ellipse").attr("cx", 1553).attr("cy", 389).attr("rx", 12).attr("ry", 8.8).attr("fill", "#ff9d3d");
label("Hour potentially", 1574, 397, 21, true, 1.29);
label("over RBC", 1576, 423, 21, true, 1.29);
svg.append("rect").attr("x", 1542.5).attr("y", 452).attr("width", 22.5).attr("height", 26).attr("fill", "#8c8c8c");
label("Restricted", 1575, 467, 21, true, 1.29);
label("direction", 1575, 492, 21, true, 1.29);
</script>
</body>
</html>
